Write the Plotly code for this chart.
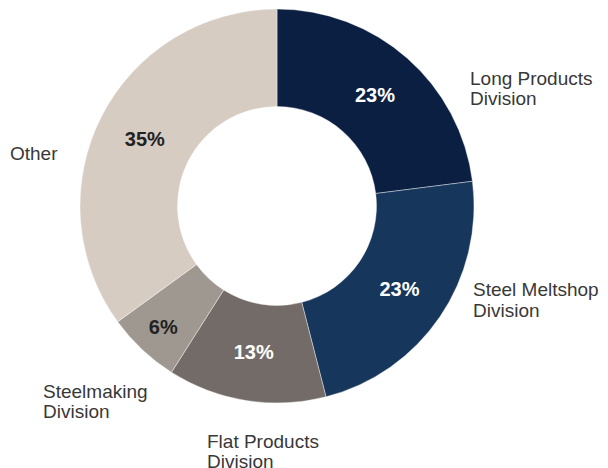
import plotly.graph_objects as go

labels = ["Long Products Division", "Steel Meltshop Division", "Flat Products Division",
          "Steelmaking Division", "Other"]
values = [23, 23, 13, 6, 35]
colors = ["#0b1f43", "#16365b", "#726b67", "#9f9891", "#d6ccc2"]
text_colors = ["#ffffff", "#ffffff", "#ffffff", "#222222", "#222222"]

# outside label lines, and their positions (page pixels: left x, line centre y)
label_lines = [
    ("Long Products", 468, 78), ("Division", 468, 99),
    ("Steel Meltshop", 471, 289), ("Division", 471, 310),
    ("Flat Products", 205, 441), ("Division", 205, 461),
    ("Steelmaking", 41, 391), ("Division", 41, 411),
    ("Other", 8, 153),
]

OFF = 8  # default body margin of the html page
W, H = 608 - OFF, 468 - OFF
cx, cy, R = 277 - OFF, 206 - OFF, 197

fig = go.Figure(go.Pie(
    labels=labels,
    values=values,
    sort=False,
    direction="clockwise",
    rotation=0,
    hole=0.505,
    marker=dict(colors=colors, line=dict(color="#ffffff", width=0.4)),
    texttemplate="<b>%{value}%</b>",
    textposition="inside",
    insidetextorientation="horizontal",
    textfont=dict(family="Liberation Sans, Arial, sans-serif", size=20, color=text_colors),
    showlegend=False,
    hoverinfo="label+value",
    domain=dict(x=[(cx - R) / W, (cx + R) / W],
                y=[(H - cy - R) / H, (H - cy + R) / H]),
))

annotations = []
for t, px, py in label_lines:
    annotations.append(dict(
        text=t, x=(px - OFF) / W, y=1 - (py - OFF) / H, xref="paper", yref="paper",
        xanchor="left", yanchor="middle", align="left", showarrow=False,
        font=dict(family="Liberation Sans, Arial, sans-serif", size=19, color="#383838"),
    ))

fig.update_layout(
    width=W, height=H,
    margin=dict(l=0, r=0, t=0, b=0),
    paper_bgcolor="#ffffff",
    plot_bgcolor="#ffffff",
    annotations=annotations,
)

fig.write_html("out.html")
